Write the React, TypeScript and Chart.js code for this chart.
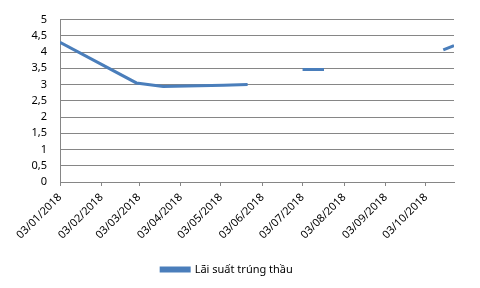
import React, { useEffect, useRef } from "react";
import { Chart, registerables } from "chart.js";

Chart.register(...registerables);

const seriesName = "Lãi suất trúng thầu";
// days counted from 03/01/2018
const dayOffsets = [0, 57, 77, 122, 140, 160, 181, 197, 240, 286, 294];
const rates: (number | null)[] = [4.3, 3.05, 2.94, 2.98, 3.0, null, 3.46, 3.46, null, 4.07, 4.2];
const tickDays = [0, 31, 59, 90, 120, 151, 181, 212, 243, 273];
const tickLabels = [
  "03/01/2018",
  "03/02/2018",
  "03/03/2018",
  "03/04/2018",
  "03/05/2018",
  "03/06/2018",
  "03/07/2018",
  "03/08/2018",
  "03/09/2018",
  "03/10/2018",
];
const yTicks = [0, 0.5, 1, 1.5, 2, 2.5, 3, 3.5, 4, 4.5, 5];
const axisEndDay = 294;

export default function App() {
  const ref = useRef<HTMLCanvasElement | null>(null);
  useEffect(() => {
    if (!ref.current) return;
    const font = { family: "'Noto Sans', sans-serif", size: 11 };
    const chart = new Chart(ref.current, {
      type: "line",
      data: {
        datasets: [
          {
            label: seriesName,
            data: dayOffsets.map((d, i) => ({ x: d, y: rates[i] })) as any,
            borderColor: "#4A7EBB",
            backgroundColor: "#4A7EBB",
            borderWidth: 3,
            pointRadius: 0,
            tension: 0,
            spanGaps: false,
          },
        ],
      },
      options: {
        responsive: false,
        animation: false,
        layout: { padding: { top: 15, right: 26, bottom: 3, left: 0 } },
        plugins: {
          tooltip: { enabled: false },
          legend: {
            position: "bottom",
            labels: {
              boxWidth: 28,
              boxHeight: 3,
              padding: 10,
              color: "#000",
              font,
            },
          },
        },
        scales: {
          x: {
            type: "linear",
            min: 0,
            max: axisEndDay,
            afterBuildTicks: (scale: any) => {
              scale.ticks = tickDays.map((v) => ({ value: v }));
            },
            afterFit: (scale: any) => {
              scale.height = 72;
            },
            grid: {
              drawOnChartArea: false,
              drawTicks: true,
              tickLength: 4,
              color: "#868686",
            },
            border: { display: true, color: "#868686" },
            ticks: {
              autoSkip: false,
              maxRotation: 45,
              minRotation: 45,
              color: "#000",
              font,
              padding: 5,
              callback: (v: any) => {
                const i = tickDays.indexOf(Number(v));
                return i >= 0 ? tickLabels[i] : "";
              },
            },
          },
          y: {
            min: 0,
            max: 5,
            afterBuildTicks: (scale: any) => {
              scale.ticks = yTicks.map((v) => ({ value: v }));
            },
            afterFit: (scale: any) => {
              scale.width = 60;
            },
            grid: { color: "#868686", drawTicks: false },
            border: { display: true, color: "#868686" },
            ticks: {
              autoSkip: false,
              color: "#000",
              font,
              padding: 13,
              callback: (v: any) => String(v).replace(".", ","),
            },
          },
        },
      },
    });
    return () => chart.destroy();
  }, []);
  return (
    <div style={{ position: "fixed", left: 0, top: 0, width: 480, height: 288, background: "#fff" }}>
      <canvas ref={ref} width={480} height={288} />
    </div>
  );
}
